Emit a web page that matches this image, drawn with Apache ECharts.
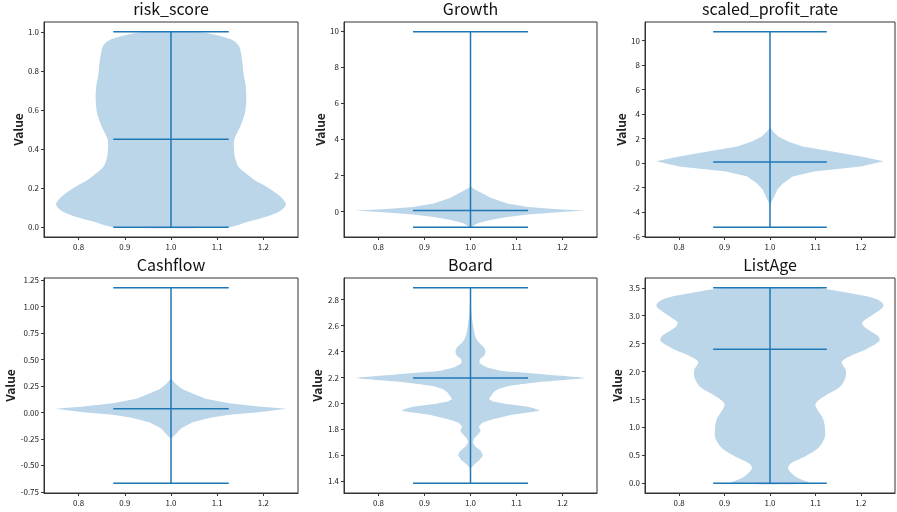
<!DOCTYPE html>
<html>
<head>
<meta charset="utf-8">
<title>violin</title>
<script src="https://cdn.jsdelivr.net/npm/echarts@6/dist/echarts.min.js"></script>
<style>
  html, body { margin: 0; padding: 0; background: #fff; }
  #chart { width: 897px; height: 512px; }
</style>
</head>
<body>
<div id="chart"></div>
<script>
  // panel titles and summary stats (min / max / median)
  const titles = ['risk_score', 'Growth', 'scaled_profit_rate', 'Cashflow', 'Board', 'ListAge']
  const mins = [0.0, -0.86, -5.23, -0.668, 1.385, 0.0]
  const maxs = [1.0, 9.95, 10.73, 1.177, 2.892, 3.5]
  const medians = [0.45, 0.07, 0.1, 0.035, 2.197, 2.4]

  // violin outlines: value levels and half widths (x units, max 0.25)
  const riskY = [0, 0.03, 0.056, 0.085, 0.116, 0.145, 0.175, 0.21, 0.243, 0.28, 0.31, 0.345, 0.38, 0.447, 0.515, 0.583, 0.65, 0.72, 0.787, 0.855, 0.923, 0.95, 0.966, 0.99, 1.0]
  const riskW = [0.125, 0.17, 0.21, 0.238, 0.249, 0.242, 0.227, 0.205, 0.18, 0.16, 0.146, 0.14, 0.137, 0.137, 0.15, 0.16, 0.163, 0.162, 0.157, 0.154, 0.148, 0.138, 0.125, 0.085, 0.05]

  const growthY = [-0.86, -0.75, -0.63, -0.44, -0.3, -0.15, -0.03, 0.06, 0.13, 0.26, 0.45, 0.76, 1.13, 1.3, 1.4]
  const growthW = [0.003, 0.008, 0.017, 0.045, 0.08, 0.125, 0.19, 0.25, 0.19, 0.125, 0.08, 0.045, 0.017, 0.005, 0.0]

  const profitY = [-3.4, -3.13, -2.72, -2.17, -1.63, -1.09, -0.68, -0.27, 0.15, 0.54, 0.95, 1.36, 1.77, 2.17, 2.58, 2.9]
  const profitW = [0.0, 0.004, 0.009, 0.016, 0.029, 0.05, 0.097, 0.2, 0.25, 0.2, 0.137, 0.072, 0.04, 0.018, 0.007, 0.0]

  const cashY = [-0.25, -0.2, -0.15, -0.092, -0.05, -0.022, 0.003, 0.035, 0.057, 0.088, 0.13, 0.178, 0.22, 0.266, 0.32]
  const cashW = [0.0, 0.011, 0.022, 0.047, 0.085, 0.126, 0.19, 0.25, 0.19, 0.126, 0.075, 0.047, 0.025, 0.011, 0.0]

  const boardY = [1.385, 1.5, 1.53, 1.565, 1.6, 1.635, 1.67, 1.7, 1.73, 1.76, 1.79, 1.82, 1.85, 1.88, 1.91, 1.944, 1.97, 1.995, 2.015, 2.035, 2.06, 2.085, 2.11, 2.136, 2.167, 2.197, 2.226, 2.25, 2.28, 2.31, 2.34, 2.37, 2.4, 2.43, 2.456, 2.49, 2.52, 2.57, 2.62, 2.7, 2.8, 2.892]
  const boardW = [0.0, 0.001, 0.008, 0.02, 0.027, 0.022, 0.01, 0.005, 0.008, 0.016, 0.022, 0.018, 0.025, 0.05, 0.085, 0.15, 0.13, 0.08, 0.05, 0.04, 0.045, 0.05, 0.06, 0.085, 0.155, 0.25, 0.155, 0.07, 0.035, 0.02, 0.02, 0.03, 0.033, 0.03, 0.022, 0.014, 0.01, 0.007, 0.005, 0.002, 0.001, 0.0]

  const ageY = [0, 0.11, 0.26, 0.35, 0.47, 0.62, 0.8, 0.976, 1.15, 1.27, 1.42, 1.57, 1.72, 1.87, 2.02, 2.17, 2.29, 2.4, 2.55, 2.64, 2.79, 2.88, 3.0, 3.18, 3.3, 3.39, 3.48, 3.5]
  const ageW = [0.086, 0.058, 0.04, 0.045, 0.075, 0.105, 0.12, 0.121, 0.117, 0.108, 0.1, 0.122, 0.153, 0.165, 0.167, 0.158, 0.18, 0.212, 0.241, 0.237, 0.209, 0.203, 0.223, 0.25, 0.234, 0.187, 0.122, 0.1]

  // tick labels
  const xTicks = [0.8, 0.9, 1.0, 1.1, 1.2]
  const riskTicks = [0, 0.2, 0.4, 0.6, 0.8, 1.0]
  const growthTicks = [0, 2, 4, 6, 8, 10]
  const profitTicks = [-6, -4, -2, 0, 2, 4, 6, 8, 10]
  const cashTicks = [-0.75, -0.5, -0.25, 0, 0.25, 0.5, 0.75, 1.0, 1.25]
  const boardTicks = [1.4, 1.6, 1.8, 2.0, 2.2, 2.4, 2.6, 2.8]
  const ageTicks = [0, 0.5, 1.0, 1.5, 2.0, 2.5, 3.0, 3.5]

  // smooth: outline rounding, spiky panels stay sharp
  const panels = [
    { ys: riskY, ws: riskW, ticks: riskTicks, dec: 1, nameGap: 20, smooth: 0.3 },
    { ys: growthY, ws: growthW, ticks: growthTicks, dec: 0, nameGap: 17, smooth: 0 },
    { ys: profitY, ws: profitW, ticks: profitTicks, dec: 0, nameGap: 18, smooth: 0 },
    { ys: cashY, ws: cashW, ticks: cashTicks, dec: 2, nameGap: 28, smooth: 0 },
    { ys: boardY, ws: boardW, ticks: boardTicks, dec: 1, nameGap: 21, smooth: 0.1 },
    { ys: ageY, ws: ageW, ticks: ageTicks, dec: 1, nameGap: 22, smooth: 0.3 }
  ]

  // layout of the 2x3 axes boxes
  const colLeft = [44, 344, 645]
  const colWidth = [254, 253, 250]
  const rowTop = [22, 278]
  const boxHeight = 215

  const fill = '#bcd6e9'
  const stroke = '#1f77b4'
  const fontFamily = '"Noto Sans CJK SC", "Noto Sans", sans-serif'

  const option = { animation: false, title: [], grid: [], xAxis: [], yAxis: [], series: [] }

  panels.forEach((p, i) => {
    const col = i % 3
    const row = Math.floor(i / 3)
    const left = colLeft[col]
    const top = rowTop[row]
    const span = maxs[i] - mins[i]

    option.title.push({
      text: titles[i],
      left: left + colWidth[col] / 2,
      top: top - 21,
      textAlign: 'center',
      padding: 0,
      textStyle: { fontFamily, fontSize: 16, fontWeight: 'normal', color: '#111' }
    })
    option.grid.push({
      left, top, width: colWidth[col], height: boxHeight,
      show: true, borderColor: '#333', borderWidth: 1
    })
    option.xAxis.push({
      gridIndex: i,
      type: 'value',
      min: 0.725,
      max: 1.275,
      splitLine: { show: false },
      axisLine: { show: true, onZero: false, lineStyle: { color: '#333' } },
      axisTick: { show: true, length: 3, customValues: xTicks, lineStyle: { color: '#333' } },
      axisLabel: {
        customValues: xTicks,
        formatter: (v) => v.toFixed(1),
        fontFamily, fontSize: 8, color: '#222', margin: 6
      }
    })
    option.yAxis.push({
      gridIndex: i,
      type: 'value',
      min: mins[i] - 0.05 * span,
      max: maxs[i] + 0.05 * span,
      splitLine: { show: false },
      axisLine: { show: true, onZero: false, lineStyle: { color: '#333' } },
      axisTick: { show: true, length: 3, customValues: p.ticks, lineStyle: { color: '#333' } },
      axisLabel: {
        customValues: p.ticks,
        formatter: (v) => v.toFixed(p.dec),
        fontFamily, fontSize: 8, color: '#222', margin: 5
      },
      name: 'Value',
      nameLocation: 'middle',
      nameGap: p.nameGap,
      nameTextStyle: { fontFamily, fontSize: 12, fontWeight: 'bold', color: '#222' }
    })

    // violin body: one polygon built from the outline arrays
    option.series.push({
      type: 'custom',
      xAxisIndex: i,
      yAxisIndex: i,
      silent: true,
      clip: true,
      z: 1,
      data: p.ys.map((y, k) => [1 + p.ws[k], y]),
      renderItem: (params, api) => {
        if (params.dataIndex !== 0) return
        const pts = []
        for (let k = 0; k < p.ys.length; k++) pts.push(api.coord([1 + p.ws[k], p.ys[k]]))
        for (let k = p.ys.length - 1; k >= 0; k--) pts.push(api.coord([1 - p.ws[k], p.ys[k]]))
        return { type: 'polygon', shape: { points: pts, smooth: p.smooth }, style: { fill } }
      }
    })

    // extrema bar, caps and median
    option.series.push({
      type: 'custom',
      xAxisIndex: i,
      yAxisIndex: i,
      silent: true,
      z: 2,
      data: [[1, mins[i], maxs[i], medians[i]]],
      encode: { x: 0, y: 1 },
      renderItem: (params, api) => {
        const lo = api.value(1)
        const hi = api.value(2)
        const med = api.value(3)
        const seg = (x1, y1, x2, y2) => {
          const a = api.coord([x1, y1])
          const b = api.coord([x2, y2])
          return {
            type: 'line',
            shape: { x1: a[0], y1: a[1], x2: b[0], y2: b[1] },
            style: { stroke, lineWidth: 1.5 }
          }
        }
        return {
          type: 'group',
          children: [
            seg(1, lo, 1, hi),
            seg(0.875, lo, 1.125, lo),
            seg(0.875, hi, 1.125, hi),
            seg(0.875, med, 1.125, med)
          ]
        }
      }
    })
  })

  const chart = echarts.init(document.getElementById('chart'), null, { renderer: 'canvas' })
  chart.setOption(option)
</script>
</body>
</html>
